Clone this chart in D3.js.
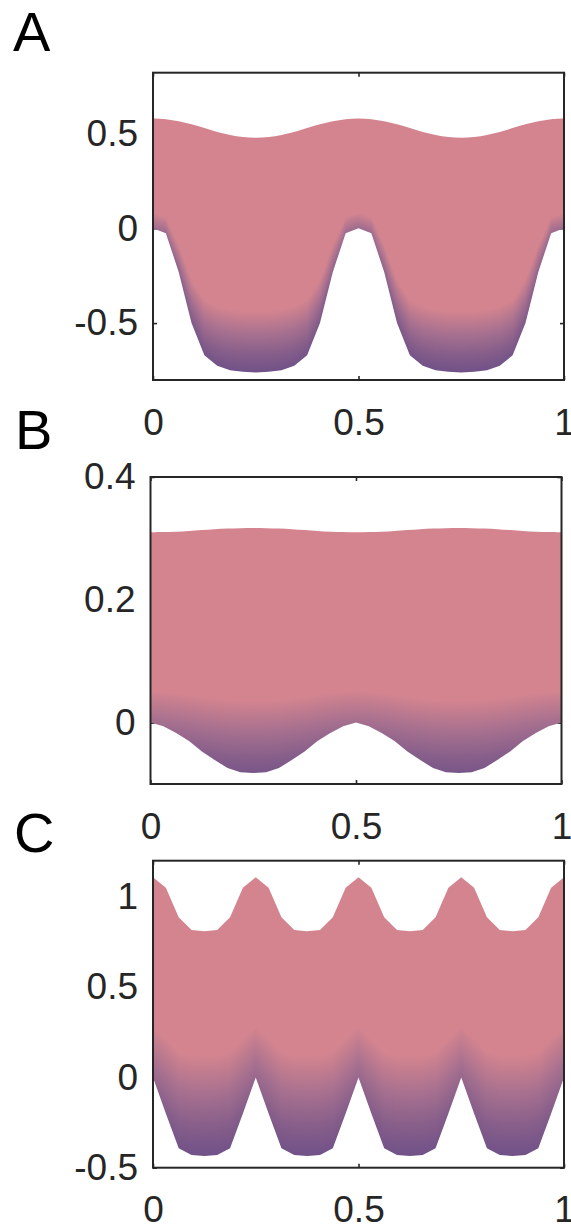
<!DOCTYPE html>
<html>
<head>
<meta charset="utf-8">
<script src="https://cdn.jsdelivr.net/npm/d3@7"></script>
<style>
  html, body { margin: 0; padding: 0; background: #ffffff; }
  svg { display: block; }
</style>
</head>
<body>
<svg id="fig" width="571" height="1228"></svg>
<script>
// Sample positions along the period axis (shared by every panel)
const xGrid = [0, 0.03125, 0.0625, 0.09375, 0.125, 0.15625, 0.1875, 0.21875, 0.25,
  0.28125, 0.3125, 0.34375, 0.375, 0.40625, 0.4375, 0.46875, 0.5,
  0.53125, 0.5625, 0.59375, 0.625, 0.65625, 0.6875, 0.71875, 0.75,
  0.78125, 0.8125, 0.84375, 0.875, 0.90625, 0.9375, 0.96875, 1];

// Panel A: upper and lower surfaces
const aUpper = [0.579, 0.575, 0.564, 0.548, 0.528, 0.508, 0.492, 0.481, 0.477,
  0.481, 0.492, 0.508, 0.528, 0.548, 0.564, 0.575, 0.579,
  0.575, 0.564, 0.548, 0.528, 0.508, 0.492, 0.481, 0.477,
  0.481, 0.492, 0.508, 0.528, 0.548, 0.564, 0.575, 0.579];
const aLower = [0, -0.027, -0.23, -0.5, -0.67, -0.725, -0.748, -0.757, -0.76,
  -0.757, -0.748, -0.725, -0.67, -0.5, -0.23, -0.027, 0,
  -0.027, -0.23, -0.5, -0.67, -0.725, -0.748, -0.757, -0.76,
  -0.757, -0.748, -0.725, -0.67, -0.5, -0.23, -0.027, 0];

// Panel B
const bUpper = [0.310, 0.3103, 0.311, 0.3122, 0.3135, 0.3148, 0.316, 0.3167, 0.317,
  0.3167, 0.316, 0.3148, 0.3135, 0.3122, 0.311, 0.3103, 0.310,
  0.3103, 0.311, 0.3122, 0.3135, 0.3148, 0.316, 0.3167, 0.317,
  0.3167, 0.316, 0.3148, 0.3135, 0.3122, 0.311, 0.3103, 0.310];
const bLower = [0, -0.006, -0.017, -0.03, -0.047, -0.061, -0.074, -0.081, -0.082,
  -0.081, -0.074, -0.061, -0.047, -0.03, -0.017, -0.006, 0,
  -0.006, -0.017, -0.03, -0.047, -0.061, -0.074, -0.081, -0.082,
  -0.081, -0.074, -0.061, -0.047, -0.03, -0.017, -0.006, 0];

// Panel C
const cUpper = [1.108, 1.05, 0.887, 0.816, 0.81, 0.816, 0.887, 1.05, 1.108,
  1.05, 0.887, 0.816, 0.81, 0.816, 0.887, 1.05, 1.108,
  1.05, 0.887, 0.816, 0.81, 0.816, 0.887, 1.05, 1.108,
  1.05, 0.887, 0.816, 0.81, 0.816, 0.887, 1.05, 1.108];
const cLower = [0, -0.2, -0.392, -0.43, -0.435, -0.43, -0.392, -0.2, 0,
  -0.2, -0.392, -0.43, -0.435, -0.43, -0.392, -0.2, 0,
  -0.2, -0.392, -0.43, -0.435, -0.43, -0.392, -0.2, 0,
  -0.2, -0.392, -0.43, -0.435, -0.43, -0.392, -0.2, 0];

// Tick values
const xTicks = [0, 0.5, 1];
const aYTicks = [-0.5, 0, 0.5];
const bYTicks = [0, 0.2, 0.4];
const cYTicks = [-0.5, 0, 0.5, 1];

const panelLabels = ["A", "B", "C"];

// Layout and shading settings of each panel
// heightWeight: contribution of absolute height, layerWeight: contribution of the
// relative position between the lower and upper surfaces, shadeOffset: base level
const panels = [
  { label: panelLabels[0], upper: aUpper, lower: aLower, yDomain: [-0.8, 0.82], yTicks: aYTicks,
    left: 153, right: 564, top: 72.7, bottom: 380, upperCurve: d3.curveCatmullRom,
    labelX: 13, labelY: 51, xLabelPad: 29, heightWeight: 0.65, layerWeight: 2.1, shadeOffset: 0 },
  { label: panelLabels[1], upper: bUpper, lower: bLower, yDomain: [-0.1, 0.4], yTicks: bYTicks,
    left: 150.5, right: 561.5, top: 477, bottom: 784, upperCurve: d3.curveCatmullRom,
    labelX: 15, labelY: 449, xLabelPad: 29, heightWeight: 1.6, layerWeight: 0.5, shadeOffset: 0.08 },
  { label: panelLabels[2], upper: cUpper, lower: cLower, yDomain: [-0.5, 1.2], yTicks: cYTicks,
    left: 153, right: 564, top: 860.7, bottom: 1167.7, upperCurve: d3.curveLinear,
    labelX: 14, labelY: 852, xLabelPad: 28, heightWeight: 1.15, layerWeight: 0.65, shadeOffset: 0 }
];

const ink = "#262626";
const fontFamily = "'Liberation Sans', Arial, Helvetica, sans-serif";
const tickFont = 37;

// Colour ramp from the deep purple floor to the rose body
const shade = d3.scaleLinear()
  .domain([0, 0.2, 0.42, 0.7])
  .range(["#705188", "#865e8a", "#a56f8f", "#d3848f"])
  .interpolate(d3.interpolateRgb)
  .clamp(true);
const LUT = d3.range(512).map(i => d3.rgb(shade(i / 511 * 0.8)));

const svg = d3.select("#fig");
const defs = svg.append("defs");
const fmt = v => String(v);
const bis = d3.bisector(d => d).right;

function sampleAt(arr, xv) {
  let k = bis(xGrid, xv) - 1;
  k = Math.max(0, Math.min(xGrid.length - 2, k));
  const t = (xv - xGrid[k]) / (xGrid[k + 1] - xGrid[k]);
  return arr[k] + (arr[k + 1] - arr[k]) * t;
}

panels.forEach((p, idx) => {
  const x = d3.scaleLinear().domain([0, 1]).range([p.left, p.right]);
  const y = d3.scaleLinear().domain(p.yDomain).range([p.bottom, p.top]);
  const g = svg.append("g");

  // tick marks and tick labels
  const styleAxis = sel => {
    sel.select(".domain").remove();
    sel.selectAll(".tick line").attr("stroke", ink).attr("stroke-width", 1.6);
    sel.selectAll(".tick text").attr("fill", ink)
      .style("font-family", fontFamily).style("font-size", tickFont + "px");
  };
  g.append("g").attr("transform", `translate(${p.left},0)`)
    .call(d3.axisLeft(y).tickValues(p.yTicks).tickFormat(fmt).tickSizeInner(-4).tickSizeOuter(0).tickPadding(15))
    .call(styleAxis);
  g.append("g").attr("transform", `translate(${p.right},0)`)
    .call(d3.axisRight(y).tickValues(p.yTicks).tickFormat(() => "").tickSizeInner(-4).tickSizeOuter(0))
    .call(styleAxis);
  g.append("g").attr("transform", `translate(0,${p.bottom})`)
    .call(d3.axisBottom(x).tickValues(xTicks).tickFormat(fmt).tickSizeInner(-4).tickSizeOuter(0).tickPadding(p.xLabelPad))
    .call(styleAxis);
  g.append("g").attr("transform", `translate(0,${p.top})`)
    .call(d3.axisTop(x).tickValues(xTicks).tickFormat(() => "").tickSizeInner(-4).tickSizeOuter(0))
    .call(styleAxis);
  g.selectAll("text").attr("font-family", null);

  // outline of the filled layer
  const pts = xGrid.map((xv, i) => [xv, p.upper[i], p.lower[i]]);
  const topLine = d3.line().x(d => x(d[0])).y(d => y(d[1])).curve(p.upperCurve);
  const botLine = d3.line().x(d => x(d[0])).y(d => y(d[2])).curve(d3.curveLinear);
  const outline = topLine(pts) + botLine(pts.slice().reverse()).replace(/^M/, "L") + "Z";
  const clipId = "layer-clip-" + idx;
  defs.append("clipPath").attr("id", clipId).append("path").attr("d", outline);

  // shaded field inside the layer
  const lo = d3.min(p.lower), hi = d3.max(p.upper);
  const cx0 = Math.floor(p.left), cx1 = Math.ceil(p.right);
  const cy0 = Math.floor(p.top), cy1 = Math.ceil(p.bottom);
  const W = cx1 - cx0, H = cy1 - cy0;
  const canvas = document.createElement("canvas");
  canvas.width = W; canvas.height = H;
  const ctx = canvas.getContext("2d");
  const img = ctx.createImageData(W, H);
  const Ls = new Float64Array(W), Us = new Float64Array(W);
  for (let i = 0; i < W; i++) {
    const xv = Math.max(0, Math.min(1, x.invert(cx0 + i + 0.5)));
    Ls[i] = sampleAt(p.lower, xv);
    Us[i] = sampleAt(p.upper, xv);
  }
  for (let j = 0; j < H; j++) {
    const yv = y.invert(cy0 + j + 0.5);
    const yn = Math.max(0, Math.min(1, (yv - lo) / (hi - lo)));
    for (let i = 0; i < W; i++) {
      const L = Ls[i], U = Us[i];
      let s = (yv - L) / (U - L);
      s = Math.max(0, Math.min(1, s));
      const c = p.shadeOffset + p.heightWeight * yn + p.layerWeight * s;
      const k = Math.max(0, Math.min(511, Math.round(c / 0.8 * 511)));
      const col = LUT[k];
      const o = (j * W + i) * 4;
      img.data[o] = col.r; img.data[o + 1] = col.g; img.data[o + 2] = col.b; img.data[o + 3] = 255;
    }
  }
  ctx.putImageData(img, 0, 0);
  g.append("image")
    .attr("x", cx0).attr("y", cy0).attr("width", W).attr("height", H)
    .attr("preserveAspectRatio", "none")
    .attr("href", canvas.toDataURL())
    .attr("clip-path", `url(#${clipId})`);

  // axes box
  g.append("rect")
    .attr("x", p.left).attr("y", p.top)
    .attr("width", p.right - p.left).attr("height", p.bottom - p.top)
    .attr("fill", "none").attr("stroke", ink).attr("stroke-width", 2);

  // panel letter
  svg.append("text")
    .attr("x", p.labelX).attr("y", p.labelY)
    .attr("fill", "#000")
    .style("font-family", fontFamily).style("font-size", "56px")
    .text(p.label);
});
</script>
</body>
</html>
